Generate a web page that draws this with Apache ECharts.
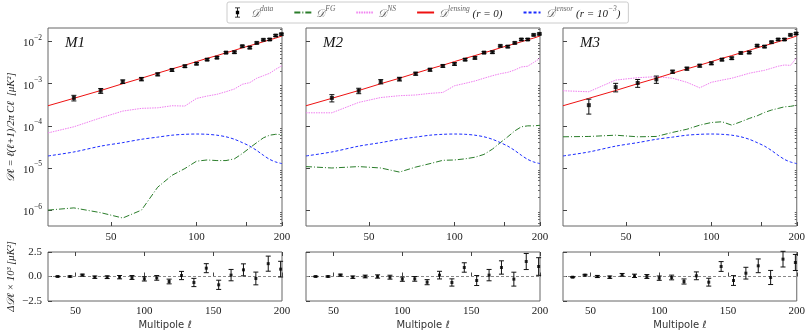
<!DOCTYPE html>
<html>
<head>
<meta charset="utf-8">
<script src="https://cdn.jsdelivr.net/npm/echarts@6/dist/echarts.min.js"></script>
<style>
  html, body { margin: 0; padding: 0; background: #fff; }
  #chart { width: 808px; height: 332px; }
</style>
</head>
<body>
<div id="chart"></div>
<script>
// multipole bins for the data points and sample points for the curves
const ellBins = [37, 46, 55, 64, 73, 82, 91, 100, 109, 118, 127, 136, 145, 154, 163, 172, 181, 190, 199];
const ellCurve = [30, 37, 46, 55, 64, 73, 82, 91, 100, 109, 118, 127, 136, 145, 154, 163, 172, 181, 190, 200];

const panelNames = ["M1", "M2", "M3"];

// D_ell data points (muK^2) and their errors (x 1e-3)
const data1 = [4.6e-4, 6.8e-4, 1.12e-3, 1.29e-3, 1.67e-3, 2.12e-3, 2.6e-3, 2.99e-3, 3.73e-3, 4.16e-3, 5.47e-3, 5.6e-3, 7.77e-3, 7.2e-3, 9.3e-3, 1.1e-2, 1.12e-2, 1.39e-2, 1.5e-2];
const data2 = [4.6e-4, 6.8e-4, 1.12e-3, 1.29e-3, 1.73e-3, 2.15e-3, 2.64e-3, 2.94e-3, 3.73e-3, 4.1e-3, 5.47e-3, 5.6e-3, 7.9e-3, 7.6e-3, 9.3e-3, 1.12e-2, 1.12e-2, 1.44e-2, 1.52e-2];
const data3 = [3.1e-4, 8.3e-4, 1.04e-3, 1.27e-3, 1.93e-3, 2.28e-3, 2.68e-3, 3.05e-3, 3.73e-3, 4.03e-3, 5.37e-3, 5.5e-3, 8.0e-3, 7.6e-3, 9.7e-3, 1.12e-2, 1.12e-2, 1.44e-2, 1.55e-2];
const errTop1 = [0.07, 0.09, 0.11, 0.12, 0.13, 0.15, 0.17, 0.19, 0.21, 0.24, 0.3, 0.34, 0.4, 0.45, 0.5, 0.55, 0.6, 0.7, 0.75];
const errTop2 = [0.09, 0.1, 0.13, 0.13, 0.14, 0.16, 0.18, 0.2, 0.22, 0.25, 0.3, 0.34, 0.4, 0.45, 0.5, 0.55, 0.6, 0.7, 0.75];
const errTop3 = [0.12, 0.19, 0.22, 0.25, 0.16, 0.18, 0.2, 0.22, 0.24, 0.26, 0.3, 0.34, 0.4, 0.45, 0.5, 0.55, 0.6, 0.7, 0.75];

// model curves
const lensing = [3.0e-4, 4.5e-4, 6.9e-4, 1.0e-3, 1.35e-3, 1.78e-3, 2.25e-3, 2.75e-3, 3.35e-3, 4.0e-3, 4.65e-3, 5.4e-3, 6.2e-3, 7.1e-3, 8.0e-3, 8.9e-3, 9.9e-3, 1.1e-2, 1.21e-2, 1.36e-2];
const tensor = [1.93e-5, 2.4e-5, 3.3e-5, 4.0e-5, 4.8e-5, 5.4e-5, 6.0e-5, 6.3e-5, 6.4e-5, 6.3e-5, 6.0e-5, 5.5e-5, 4.8e-5, 4.0e-5, 3.3e-5, 2.6e-5, 2.0e-5, 1.6e-5, 1.39e-5, 1.27e-5];
const ns1 = [6.8e-5, 9.5e-5, 1.55e-4, 2.24e-4, 2.6e-4, 2.68e-4, 3.0e-4, 2.95e-4, 4.47e-4, 5.1e-4, 5.6e-4, 6.46e-4, 7.5e-4, 9.7e-4, 1.06e-3, 1.35e-3, 1.55e-3, 1.77e-3, 2.2e-3, 2.68e-3];
const ns2 = [2.04e-4, 2.04e-4, 3.6e-4, 4.7e-4, 5.2e-4, 5.4e-4, 5.9e-4, 6.2e-4, 8.95e-4, 1.02e-3, 1.16e-3, 1.35e-3, 1.55e-3, 1.73e-3, 1.86e-3, 2.12e-3, 2.5e-3, 2.6e-3, 3.2e-3, 4.0e-3];
const ns3 = [6.8e-4, 6.45e-4, 1.22e-3, 1.39e-3, 1.47e-3, 1.35e-3, 1.08e-3, 8.0e-4, 1.08e-3, 1.22e-3, 1.35e-3, 1.55e-3, 1.77e-3, 1.93e-3, 2.08e-3, 2.33e-3, 2.6e-3, 2.78e-3, 2.72e-3, 4.16e-3];
const fg1 = [1.0e-6, 1.13e-6, 8.7e-7, 6.5e-7, 1.0e-6, 3.5e-6, 6.7e-6, 9.7e-6, 1.45e-5, 1.55e-5, 1.5e-5, 1.5e-5, 1.65e-5, 2.2e-5, 3.0e-5, 4.0e-5, 5.2e-5, 6.0e-5, 6.3e-5, 6.2e-5];
const fg2 = [1.08e-5, 1.0e-5, 1.08e-5, 1.0e-5, 8.0e-6, 1.05e-5, 1.27e-5, 1.52e-5, 1.55e-5, 1.65e-5, 1.8e-5, 2.1e-5, 2.8e-5, 4.0e-5, 5.5e-5, 7.6e-5, 9.5e-5, 1.0e-4, 1.0e-4, 1.03e-4];
const fg3 = [5.5e-5, 5.6e-5, 6.0e-5, 5.5e-5, 5.6e-5, 7.0e-5, 8.3e-5, 1.04e-4, 1.2e-4, 1.25e-4, 1.04e-4, 1.25e-4, 1.5e-4, 1.73e-4, 2.08e-4, 2.37e-4, 2.59e-4, 2.83e-4, 2.9e-4, 3.1e-4];

// residuals (x 1e-3 muK^2) and errors
const res1 = [0.0, 0.0, 0.14, -0.07, -0.07, -0.07, -0.1, -0.24, -0.14, -0.51, 0.1, -0.61, 0.85, -0.85, 0.14, 0.68, -0.2, 1.31, 0.75];
const res2 = [0.0, 0.0, 0.14, -0.07, 0.0, 0.0, -0.07, -0.27, -0.24, -0.58, 0.14, -0.61, 0.92, -0.41, 0.14, 0.92, -0.27, 1.53, 1.02];
const res3 = [-0.07, 0.14, 0.0, -0.07, 0.17, 0.07, 0.0, -0.17, -0.1, -0.51, 0.07, -0.58, 1.02, -0.41, 0.34, 1.09, -0.1, 1.77, 1.43];
const errRes1 = [0.04, 0.06, 0.1, 0.12, 0.14, 0.17, 0.2, 0.22, 0.24, 0.24, 0.42, 0.42, 0.46, 0.47, 0.58, 0.61, 0.65, 0.77, 0.8];
const errRes2 = [0.04, 0.06, 0.1, 0.12, 0.14, 0.17, 0.2, 0.22, 0.24, 0.26, 0.39, 0.37, 0.48, 0.51, 0.58, 0.68, 0.71, 0.82, 0.9];
const errRes3 = [0.05, 0.08, 0.11, 0.12, 0.14, 0.17, 0.2, 0.22, 0.24, 0.26, 0.4, 0.4, 0.5, 0.5, 0.6, 0.7, 0.72, 0.8, 0.82];

// tick positions
const topLabelsX = [50, 100, 200];
const topTicksX = [50, 100, 150, 200];
const bottomTicksX = [50, 100, 150, 200];
const topTicksY = [1e-6, 1e-5, 1e-4, 1e-3, 1e-2];
const minorTicksY = [];
for (let n = -7; n <= -2; n++) {
  for (let m = 2; m <= 9; m++) {
    const v = m * Math.pow(10, n);
    if (v > 4.2e-7 && v < 2.1e-2) minorTicksY.push(v);
  }
}

const panels = [
  { data: data1, errTop: errTop1, ns: ns1, fg: fg1, res: res1, errRes: errRes1 },
  { data: data2, errTop: errTop2, ns: ns2, fg: fg2, res: res2, errRes: errRes2 },
  { data: data3, errTop: errTop3, ns: ns3, fg: fg3, res: res3, errRes: errRes3 },
];

const SERIF = "Liberation Serif";
const lefts = [48, 306, 563];
const W = 234;

const supRich = {
  b: { fontFamily: SERIF, fontSize: 11, color: "#222", lineHeight: 15, verticalAlign: "bottom" },
  s: { fontFamily: SERIF, fontSize: 7.5, color: "#222", lineHeight: 8, verticalAlign: "top" },
};

function powLabel(v) {
  const e = Math.round(Math.log10(v));
  return "{b|10}{s|" + (e < 0 ? "\u2212" + -e : e) + "}";
}

const grid = [], xAxis = [], yAxis = [], series = [], title = [];

function errorBars(name, xi, yi, pts, cap) {
  return {
    name: name,
    type: "custom",
    xAxisIndex: xi,
    yAxisIndex: yi,
    z: 5,
    renderItem: function (params, api) {
      const x = api.value(0), y = api.value(1), e = api.value(2);
      const hi = api.coord([x, y + e]);
      const lo = api.coord([x, y - e]);
      const st = { stroke: "#111", lineWidth: 1 };
      return {
        type: "group",
        children: [
          { type: "line", shape: { x1: hi[0], y1: hi[1], x2: lo[0], y2: lo[1] }, style: st },
          { type: "line", shape: { x1: hi[0] - cap, y1: hi[1], x2: hi[0] + cap, y2: hi[1] }, style: st },
          { type: "line", shape: { x1: lo[0] - cap, y1: lo[1], x2: lo[0] + cap, y2: lo[1] }, style: st },
        ],
      };
    },
    data: pts,
  };
}

function curve(name, xi, yi, ys, color, type, smooth) {
  return {
    name: name,
    type: "line",
    xAxisIndex: xi,
    yAxisIndex: yi,
    symbol: "none",
    smooth: smooth ? 0.3 : false,
    lineStyle: { color: color, width: 1, type: type },
    itemStyle: { color: color },
    data: ellCurve.map((l, i) => [l, ys[i]]),
  };
}

panels.forEach((p, k) => {
  const gTop = grid.length;
  grid.push({ left: lefts[k], top: 28, width: W, height: 198, show: true, borderColor: "#666", borderWidth: 1 });
  grid.push({ left: lefts[k], top: 252, width: W, height: 49, show: true, borderColor: "#666", borderWidth: 1 });
  const gBot = gTop + 1;

  const xTop = xAxis.length;
  xAxis.push({
    type: "log", logBase: 10, gridIndex: gTop, min: 30, max: 200,
    axisLine: { show: false }, splitLine: { show: false },
    axisTick: { inside: true, length: 4, customValues: topTicksX, lineStyle: { color: "#444" } },
    axisLabel: { customValues: topLabelsX, fontFamily: SERIF, fontSize: 11, color: "#222", margin: 6, formatter: v => String(Math.round(v)) },
  });
  const xBot = xAxis.length;
  xAxis.push({
    type: "value", gridIndex: gBot, min: 30, max: 200,
    name: "Multipole \u2113", nameLocation: "middle", nameGap: 19,
    nameTextStyle: { fontFamily: "DejaVu Sans", fontSize: 10, color: "#333" },
    axisLine: { show: false }, splitLine: { show: false },
    axisTick: { inside: true, length: 4, customValues: bottomTicksX, lineStyle: { color: "#444" } },
    axisLabel: { customValues: bottomTicksX, fontFamily: SERIF, fontSize: 11, color: "#222", margin: 5 },
  });
  // mirrored ticks along the top of the residual panel
  xAxis.push({
    type: "value", gridIndex: gBot, min: 30, max: 200, position: "top",
    axisLine: { show: false }, splitLine: { show: false },
    axisTick: { inside: true, length: 4, customValues: bottomTicksX, lineStyle: { color: "#444" } },
    axisLabel: { show: false },
  });

  const yTop = yAxis.length;
  yAxis.push({
    type: "log", logBase: 10, gridIndex: gTop, min: 4.2e-7, max: 2.1e-2,
    name: k === 0 ? "{d|\uD835\uDC9F\u2113 = \u2113(\u2113+1)/2\u03C0 C\u2113  [\u03BCK\u00B2]}" : "",
    nameLocation: "middle", nameGap: 31,
    nameTextStyle: { rich: { d: { fontFamily: SERIF, fontStyle: "italic", fontSize: 10.5, color: "#222" } } },
    axisLine: { show: false }, splitLine: { show: false },
    axisTick: { inside: true, length: 4, customValues: topTicksY, lineStyle: { color: "#444" } },
    axisLabel: { show: k === 0, customValues: topTicksY, formatter: powLabel, rich: supRich, margin: 6 },
  });
  // minor log ticks
  yAxis.push({
    type: "log", logBase: 10, gridIndex: gTop, min: 4.2e-7, max: 2.1e-2,
    axisLine: { show: false }, splitLine: { show: false },
    axisTick: { inside: true, length: 2, customValues: minorTicksY, lineStyle: { color: "#666" } },
    axisLabel: { show: false },
  });
  const yBot = yAxis.length;
  yAxis.push({
    type: "value", gridIndex: gBot, min: -2.5, max: 2.5, interval: 2.5,
    name: k === 0 ? "\u0394\uD835\uDC9F\u2113 \u00D7 10\u00B3 [\u03BCK\u00B2]" : "",
    nameLocation: "middle", nameGap: 31,
    nameTextStyle: { fontFamily: SERIF, fontStyle: "italic", fontSize: 10.5, color: "#222" },
    axisLine: { show: false }, splitLine: { show: false },
    axisTick: { inside: true, length: 4, lineStyle: { color: "#444" } },
    axisLabel: {
      show: k === 0, fontFamily: SERIF, fontSize: 11, color: "#222", margin: 6,
      formatter: v => (v < 0 ? "\u2212" : "") + Math.abs(v).toFixed(1),
    },
  });

  title.push({
    text: panelNames[k], left: lefts[k] + 12, top: 31,
    textStyle: { fontFamily: SERIF, fontStyle: "italic", fontWeight: "normal", fontSize: 15, color: "#111" },
  });

  series.push(curve("FG", xTop, yTop, p.fg, "#2a7d2a", [6, 2, 1, 2]));
  series.push(curve("NS", xTop, yTop, p.ns, "#f07ef0", [1.5, 1]));
  series.push(curve("tensor", xTop, yTop, tensor, "#1a2bff", [3, 2], true));
  series.push(curve("lensing", xTop, yTop, lensing, "#ee1111", "solid"));

  series.push(errorBars("data", xTop, yTop, ellBins.map((l, i) => [l, p.data[i], p.errTop[i] * 1e-3]), 2.5));
  series.push({
    name: "data", type: "scatter", xAxisIndex: xTop, yAxisIndex: yTop, z: 6,
    symbol: "rect", symbolSize: 4, itemStyle: { color: "#000" },
    data: ellBins.map((l, i) => [l, p.data[i]]),
  });

  series.push(errorBars("data", xBot, yBot, ellBins.map((l, i) => [l, p.res[i], p.errRes[i]]), 2.5));
  series.push({
    name: "data", type: "scatter", xAxisIndex: xBot, yAxisIndex: yBot, z: 6,
    symbol: "rect", symbolSize: 3, itemStyle: { color: "#000" },
    data: ellBins.map((l, i) => [l, p.res[i]]),
    markLine: {
      silent: true, symbol: "none", label: { show: false },
      lineStyle: { color: "#888", type: [3, 2], width: 1 },
      data: [{ yAxis: 0 }],
    },
  });
});

const legendLabels = {
  data: "{d|\uD835\uDC9F}{s|data}",
  FG: "{d|\uD835\uDC9F}{s|FG}",
  NS: "{d|\uD835\uDC9F}{s|NS}",
  lensing: "{d|\uD835\uDC9F}{s|lensing}{t| (r = 0)}",
  tensor: "{d|\uD835\uDC9F}{s|tensor}{t| (r = 10}{s|\u22123}{t|)}",
};

const noSymbol = { opacity: 0 };

const chart = echarts.init(document.getElementById("chart"), null, { renderer: "canvas" });
chart.setOption({
  animation: false,
  backgroundColor: "#fff",
  title: title,
  legend: {
    top: 2, left: 227,
    padding: [3, 8], itemGap: 20, itemWidth: 17, itemHeight: 10,
    borderColor: "#ccc", borderWidth: 1, borderRadius: 2,
    data: [
      {
        name: "data",
        icon: "path://M3,0 H9 V1 H3 Z M5.5,1 H6.5 V11 H5.5 Z M3,11 H9 V12 H3 Z M4,4 H8 V8 H4 Z",
        itemStyle: { color: "#000" },
      },
      { name: "FG", itemStyle: noSymbol },
      { name: "NS", itemStyle: noSymbol },
      { name: "lensing", itemStyle: noSymbol },
      { name: "tensor", itemStyle: noSymbol },
    ],
    formatter: n => legendLabels[n],
    textStyle: {
      rich: {
        d: { fontFamily: SERIF, fontStyle: "italic", fontSize: 11, color: "#666", lineHeight: 15, verticalAlign: "bottom" },
        s: { fontFamily: SERIF, fontStyle: "italic", fontSize: 7.5, color: "#666", lineHeight: 8, verticalAlign: "top" },
        t: { fontFamily: SERIF, fontStyle: "italic", fontSize: 11, color: "#222", lineHeight: 15, verticalAlign: "bottom" },
      },
    },
  },
  grid: grid,
  xAxis: xAxis,
  yAxis: yAxis,
  series: series,
});
</script>
</body>
</html>
